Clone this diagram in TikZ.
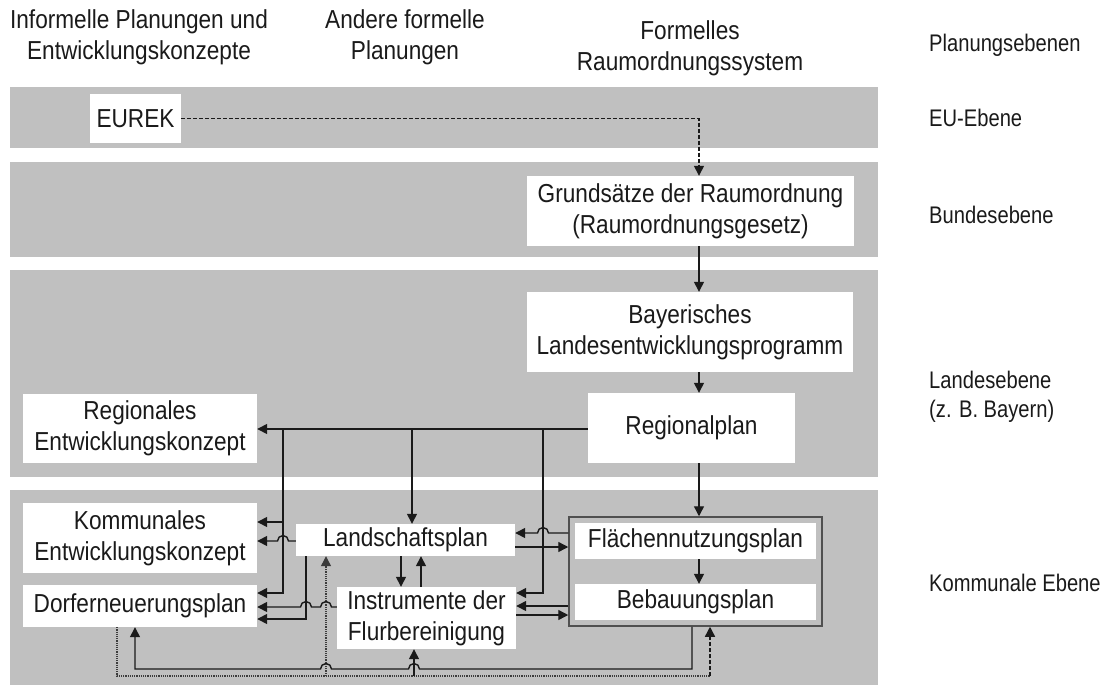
\documentclass[tikz,border=0pt]{standalone}
\usepackage{fontspec}
\setmainfont{Liberation Sans}[FakeStretch=0.87]
\newfontfamily\sidefont{Liberation Sans}[FakeStretch=0.84]
\usetikzlibrary{arrows.meta,calc}
\definecolor{band}{RGB}{192,192,192}
\definecolor{ink}{RGB}{26,26,26}
\definecolor{frame}{RGB}{80,80,80}
\begin{document}
\begin{tikzpicture}[x=1pt,y=-1pt,
  every node/.style={font=\fontsize{26}{31}\selectfont, text=ink},
  wbox/.style={fill=white, inner sep=0pt, align=center},
  headtxt/.style={inner sep=0pt, align=center},
  sidetxt/.style={inner sep=0pt, align=left, anchor=west, font=\sidefont\fontsize{24}{29}\selectfont},
  link/.style={draw=ink, line width=1.4pt},
  arr/.style={-{Triangle[length=10pt,width=10pt]}},
  dots/.style={draw=ink!85, line width=1.2pt, densely dotted},
  dashline/.style={draw=ink, line width=1.4pt, dash pattern=on 4pt off 2pt},
  hopL/.style={insert path={-- ($#1+(5.5,0)$) arc[start angle=0,end angle=-180,radius=5.5]}},
]
\useasboundingbox (0,0) rectangle (1101,686);

% planning level bands
\fill[band] (10,87) rectangle (878,148);
\fill[band] (10,162) rectangle (878,257);
\fill[band] (10,270) rectangle (878,477);
\fill[band] (10,490) rectangle (878,685);

% column and level headings
\node[headtxt] (h1) at (139,37) {Informelle Planungen und\\Entwicklungskonzepte};
\node[headtxt] (h2) at (405,37) {Andere formelle\\Planungen};
\node[headtxt] (h3) at (690,48) {Formelles\\Raumordnungssystem};
\node[sidetxt] (h4) at (929,45) {Planungsebenen};
\node[sidetxt] (l1) at (929,118) {EU-Ebene};
\node[sidetxt] (l2) at (929,215) {Bundesebene};
\node[sidetxt] (l3) at (929,397) {Landesebene\\(z. B. Bayern)};
\node[sidetxt] (l4) at (929,583) {Kommunale Ebene};

% plans
\node[wbox, minimum width=91pt, minimum height=49pt] (eurek) at (135.5,118.5) {EUREK};
\node[wbox, minimum width=327pt, minimum height=70pt] (grund) at (690.5,211) {Grundsätze der Raumordnung\\(Raumordnungsgesetz)};
\node[wbox, minimum width=326pt, minimum height=80pt] (bayer) at (690,332) {Bayerisches\\Landesentwicklungsprogramm};
\node[wbox, minimum width=207pt, minimum height=70pt] (regplan) at (691.5,428) {Regionalplan};
\node[wbox, minimum width=234pt, minimum height=69pt] (regek) at (140,428.5) {Regionales\\Entwicklungskonzept};
\node[wbox, minimum width=234pt, minimum height=70pt] (komek) at (140,538) {Kommunales\\Entwicklungskonzept};
\node[wbox, minimum width=234pt, minimum height=42pt] (dorf) at (140,606) {Dorferneuerungsplan};
\node[wbox, minimum width=219pt, minimum height=32pt] (land) at (405.5,540) {Landschaftsplan};
\node[wbox, minimum width=179pt, minimum height=62pt] (instr) at (426.5,618) {Instrumente der\\Flurbereinigung};
\node[draw=frame, line width=1.5pt, minimum width=253pt, minimum height=109pt, inner sep=0pt] (grp) at (695.5,571.5) {};
\node[wbox, minimum width=241pt, minimum height=36pt] (fnp) at (695.5,541) {Flächennutzungsplan};
\node[wbox, minimum width=241pt, minimum height=36pt] (bplan) at (695.5,602) {Bebauungsplan};

% horizontal levels and vertical runs of the connectors
\coordinate (hReg) at (0,429);
\coordinate (hK1) at (0,522);
\coordinate (hK2) at (0,541);
\coordinate (hL1) at (0,533);
\coordinate (hL2) at (0,547);
\coordinate (hD1) at (0,593);
\coordinate (hD2) at (0,607);
\coordinate (hD3) at (0,619);
\coordinate (hI2) at (0,606);
\coordinate (hI3) at (0,615);
\coordinate (hSol) at (0,669);
\coordinate (hDot) at (0,676);
\coordinate (vA) at (283,0);
\coordinate (vB) at (306,0);
\coordinate (vC) at (326,0);
\coordinate (vM) at (412,0);
\coordinate (vE) at (543,0);
\coordinate (vS) at (699,0);
\coordinate (vLd) at (401,0);
\coordinate (vLu) at (421,0);
\coordinate (vDs) at (135,0);
\coordinate (vDd) at (117,0);
\coordinate (vI) at (414,0);
\coordinate (vG) at (692,0);
\coordinate (vGd) at (710,0);

% formal chain
\draw[dashline,arr] (eurek.east) -| (vS |- grund.north);
\draw[link,arr] (vS |- grund.south) -- (vS |- bayer.north);
\draw[link,arr] (vS |- bayer.south) -- (vS |- regplan.north);
\draw[link,arr] (vS |- regplan.south) -- (vS |- grp.north);
\draw[link,arr] (vS |- fnp.south) -- (vS |- bplan.north);

% from the regional plan
\draw[link,arr] (regplan.west |- hReg) -- (regek.east |- hReg);
\draw[link,arr] (vM |- hReg) -- (vM |- land.north);
\draw[link,arr] (vA |- hReg) -- (vA |- hD1) -- (dorf.east |- hD1);
\draw[link,arr] (vA |- hK1) -- (komek.east |- hK1);
\draw[link,arr] (vE |- hReg) -- (vE |- hD1) -- (instr.east |- hD1);

% municipal level links
\draw[link,arr] (land.west |- hK2) [hopL={(vA |- hK2)}] -- (komek.east |- hK2);
\draw[link,arr] (vB |- land.south) -- (vB |- hD3) -- (dorf.east |- hD3);
\draw[link,arr] (instr.west |- hD2) [hopL={(vC |- hD2)}] [hopL={(vB |- hD2)}] -- (dorf.east |- hD2);
\draw[link,arr] (grp.west |- hL1) [hopL={(vE |- hL1)}] -- (land.east |- hL1);
\draw[link,arr] (land.east |- hL2) -- (grp.west |- hL2);
\draw[link,arr] (grp.west |- hI2) -- (instr.east |- hI2);
\draw[link,arr] (instr.east |- hI3) -- (grp.west |- hI3);
\draw[link,arr] (vLd |- land.south) -- (vLd |- instr.north);
\draw[link,arr] (vLu |- instr.north) -- (vLu |- land.south);

% bottom feedback lines
\draw[link,arr] (vG |- grp.south) -- (vG |- hSol) [hopL={(vI |- hSol)}] [hopL={(vC |- hSol)}] -- (vDs |- hSol) -- (vDs |- dorf.south);
\draw[dots] (vDd |- dorf.south) -- (vDd |- hDot) -- (vGd |- hDot);
\draw[dashline,arr] (vGd |- hDot) -- (vGd |- grp.south);
\draw[dots,arr] (vC |- hDot) -- (vC |- land.south);
\draw[link,arr] (vI |- hDot) -- (vI |- instr.south);
\end{tikzpicture}
\end{document}
